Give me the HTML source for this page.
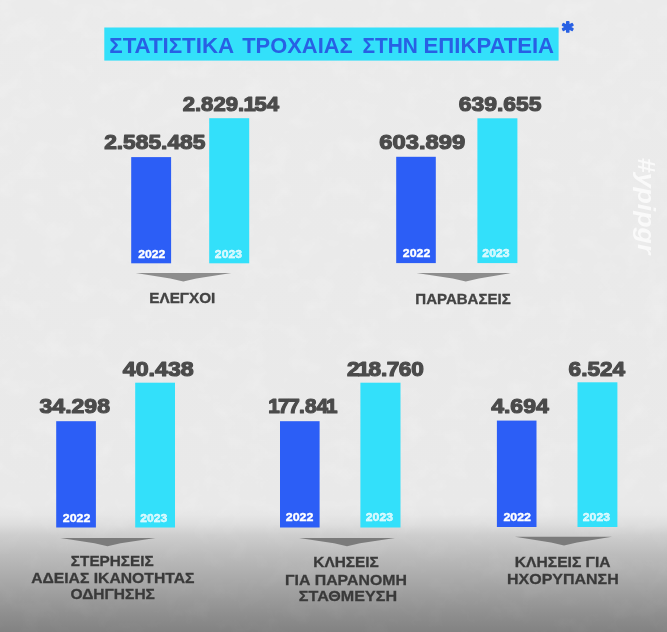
<!DOCTYPE html>
<html lang="el">
<head>
<meta charset="utf-8">
<title>Στατιστικά Τροχαίας στην Επικράτεια</title>
<style>
html,body{margin:0;padding:0;background:#ebebeb;}
body{width:667px;height:632px;overflow:hidden;position:relative;font-family:"Liberation Sans",sans-serif;}
svg{display:block;position:absolute;left:0;top:0;}
text{font-family:"Liberation Sans",sans-serif;font-weight:700;}
.num{stroke:#4b4b4b;stroke-width:1.15px;stroke-linejoin:round;}
.yr{stroke:#fff;stroke-width:0.35px;}
.lab{stroke:#3f3f3f;stroke-width:0.3px;}
.ast{font-family:"DejaVu Sans",sans-serif;font-weight:700;stroke:#2860e4;stroke-width:1.8px;stroke-linejoin:round;}
.tag{font-style:italic;}
</style>
</head>
<body>
<svg width="667" height="632" viewBox="0 0 667 632">
<defs>
<linearGradient id="bg" x1="0" y1="0" x2="0" y2="1">
<stop offset="0" stop-color="#ebebeb"/>
<stop offset="0.80" stop-color="#e9e9e9"/>
<stop offset="0.815" stop-color="#e6e6e6"/>
<stop offset="0.83" stop-color="#dddddd"/>
<stop offset="0.846" stop-color="#cecece"/>
<stop offset="0.877" stop-color="#bcbcbc"/>
<stop offset="0.926" stop-color="#a5a5a5"/>
<stop offset="0.973" stop-color="#8e8e8e"/>
<stop offset="1" stop-color="#828282"/>
</linearGradient>
<filter id="tx" x="0" y="0" width="100%" height="100%" color-interpolation-filters="sRGB">
<feTurbulence type="fractalNoise" baseFrequency="0.045 0.05" numOctaves="4" seed="11"/>
<feColorMatrix type="matrix" values="0 0 0 0 1  0 0 0 0 1  0 0 0 0 1  1.2 0 0 0 -0.5"/>
</filter>
<linearGradient id="mg" x1="0" y1="0" x2="0" y2="1">
<stop offset="0" stop-color="#fff"/>
<stop offset="0.79" stop-color="#fff"/>
<stop offset="0.86" stop-color="#555"/>
<stop offset="1" stop-color="#333"/>
</linearGradient>
<mask id="mk" maskUnits="userSpaceOnUse" x="0" y="0" width="667" height="632"><rect x="0" y="0" width="667" height="632" fill="url(#mg)"/></mask>
</defs>
<rect x="0" y="0" width="667" height="632" fill="url(#bg)"/>
<g mask="url(#mk)"><rect x="0" y="0" width="667" height="632" filter="url(#tx)" opacity="0.3"/></g>
<rect x="104.3" y="27.5" width="454.3" height="33.1" fill="#33e0fa"/>
<text class="ast" x="562.2" y="37.6" font-size="21" fill="#2860e4">*</text>
<text class="tag" transform="translate(637.9,157.8) rotate(90)" font-size="23" fill="#ffffff" fill-opacity="0.72" textLength="96.5" lengthAdjust="spacingAndGlyphs">#ypipgr</text>
<rect x="131.2" y="157.1" width="39.9" height="106.2" fill="#2c5ef6"/>
<rect x="209.2" y="118.2" width="40.0" height="145.1" fill="#33e0fa"/>
<polygon fill="#8d8d8d" points="135.8,273 231.4,273 196.3,278.38 183.3,281.4 170.3,278.38"/>
<rect x="396.2" y="156.8" width="39.6" height="106.3" fill="#2c5ef6"/>
<rect x="477.4" y="118.3" width="40.0" height="144.8" fill="#33e0fa"/>
<polygon fill="#8d8d8d" points="416.5,273 510.8,273 478.8,278.38 465.8,281.4 452.8,278.38"/>
<rect x="56.2" y="421.2" width="39.7" height="106.3" fill="#2c5ef6"/>
<rect x="135.2" y="382.7" width="39.8" height="144.8" fill="#33e0fa"/>
<polygon fill="#7b7b7b" points="60.5,538 155.5,538 120.5,543.25 107.5,546.2 94.5,543.25"/>
<rect x="280" y="421.2" width="39.6" height="106.3" fill="#2c5ef6"/>
<rect x="360.4" y="382.7" width="40.1" height="144.8" fill="#33e0fa"/>
<polygon fill="#7b7b7b" points="299,538 395,538 360.0,543.25 347,546.2 334.0,543.25"/>
<rect x="496.9" y="420.6" width="39.6" height="106.4" fill="#2c5ef6"/>
<rect x="577.5" y="382.3" width="39.9" height="144.7" fill="#33e0fa"/>
<polygon fill="#7b7b7b" points="514.9,536.8 612,536.8 577.0,542.43 564,545.6 551.0,542.43"/>
<text class="title" font-size="21.8" fill="#2860e4"><tspan id="ti1" x="109.25" y="53" textLength="124.93" lengthAdjust="spacingAndGlyphs">ΣΤΑΤΙΣΤΙΚΑ</tspan> <tspan id="ti2" x="242.21" y="53" textLength="110.49" lengthAdjust="spacingAndGlyphs">ΤΡΟΧΑΙΑΣ</tspan> <tspan id="ti3" x="362.46" y="53" textLength="55.50" lengthAdjust="spacingAndGlyphs">ΣΤΗΝ</tspan> <tspan id="ti4" x="423.56" y="53" textLength="130.49" lengthAdjust="spacingAndGlyphs">ΕΠΙΚΡΑΤΕΙΑ</tspan></text>
<text id="g0v1" class="num" transform="translate(104.13,149) scale(1.1167,1)" font-size="20.4" fill="#4b4b4b">2.585.485</text>
<text id="g0v2" class="num" transform="translate(182.66,111) scale(1.0843,1)" dx="0.0 0.0 0.0 0.0 0.0 0.0 -0.6 -1.3 0.0" font-size="20.4" fill="#4b4b4b">2.829.154</text>
<text id="g0y1" class="yr" x="138.16" y="258" font-size="10" fill="#ffffff" textLength="27.14" lengthAdjust="spacingAndGlyphs">2022</text>
<text id="g0y2" class="yr" x="214.89" y="258" font-size="10" fill="#ffffff" fill-opacity="0.72" textLength="27.02" lengthAdjust="spacingAndGlyphs">2023</text>
<text class="lab" font-size="14.6" fill="#444444"><tspan id="g0l0" x="149.28" y="303" textLength="66.08" lengthAdjust="spacingAndGlyphs">ΕΛΕΓΧΟΙ</tspan></text>
<text id="g1v1" class="num" transform="translate(379.28,149) scale(1.1653,1)" font-size="20.4" fill="#4b4b4b">603.899</text>
<text id="g1v2" class="num" transform="translate(458.71,111) scale(1.1230,1)" font-size="20.4" fill="#4b4b4b">639.655</text>
<text id="g1y1" class="yr" x="402.89" y="257" font-size="10" fill="#ffffff" textLength="27.38" lengthAdjust="spacingAndGlyphs">2022</text>
<text id="g1y2" class="yr" x="482.37" y="257" font-size="10" fill="#ffffff" fill-opacity="0.72" textLength="27.15" lengthAdjust="spacingAndGlyphs">2023</text>
<text class="lab" font-size="14.6" fill="#444444"><tspan id="g1l0" x="415.31" y="304" textLength="95.35" lengthAdjust="spacingAndGlyphs">ΠΑΡΑΒΑΣΕΙΣ</tspan></text>
<text id="g2v1" class="num" transform="translate(39.58,413) scale(1.1280,1)" font-size="20.4" fill="#4b4b4b">34.298</text>
<text id="g2v2" class="num" transform="translate(122.80,376) scale(1.1377,1)" font-size="20.4" fill="#4b4b4b">40.438</text>
<text id="g2y1" class="yr" x="62.76" y="522" font-size="10" fill="#ffffff" textLength="27.58" lengthAdjust="spacingAndGlyphs">2022</text>
<text id="g2y2" class="yr" x="140.36" y="522" font-size="10" fill="#ffffff" fill-opacity="0.72" textLength="27.02" lengthAdjust="spacingAndGlyphs">2023</text>
<text class="lab" font-size="14.6" fill="#393939"><tspan id="g2l0" x="70.87" y="566" textLength="82.80" lengthAdjust="spacingAndGlyphs">ΣΤΕΡΗΣΕΙΣ</tspan> <tspan id="g2l1" x="31.17" y="583" textLength="163.28" lengthAdjust="spacingAndGlyphs">ΑΔΕΙΑΣ ΙΚΑΝΟΤΗΤΑΣ</tspan> <tspan id="g2l2" x="70.51" y="599" textLength="84.43" lengthAdjust="spacingAndGlyphs">ΟΔΗΓΗΣΗΣ</tspan></text>
<text id="g3v1" class="num" transform="translate(268.29,413) scale(1.0168,1)" dx="0.0 -1.8 -1.2 -0.7 0.0 0.0 -1.9" font-size="20.4" fill="#4b4b4b">177.841</text>
<text id="g3v2" class="num" transform="translate(346.88,376) scale(1.1101,1)" dx="0.0 -1.9 -1.3 0.0 -0.5 -0.7 0.0" font-size="20.4" fill="#4b4b4b">218.760</text>
<text id="g3y1" class="yr" x="285.76" y="521" font-size="10" fill="#ffffff" textLength="27.58" lengthAdjust="spacingAndGlyphs">2022</text>
<text id="g3y2" class="yr" x="365.83" y="521" font-size="10" fill="#ffffff" fill-opacity="0.72" textLength="27.14" lengthAdjust="spacingAndGlyphs">2023</text>
<text class="lab" font-size="14.6" fill="#393939"><tspan id="g3l0" x="313.30" y="567" textLength="65.53" lengthAdjust="spacingAndGlyphs">ΚΛΗΣΕΙΣ</tspan> <tspan id="g3l1" x="284.97" y="585" textLength="121.87" lengthAdjust="spacingAndGlyphs">ΓΙΑ ΠΑΡΑΝΟΜΗ</tspan> <tspan id="g3l2" x="298.85" y="601" textLength="98.18" lengthAdjust="spacingAndGlyphs">ΣΤΑΘΜΕΥΣΗ</tspan></text>
<text id="g4v1" class="num" transform="translate(491.16,413) scale(1.1297,1)" font-size="20.4" fill="#4b4b4b">4.694</text>
<text id="g4v2" class="num" transform="translate(568.55,376) scale(1.1098,1)" font-size="20.4" fill="#4b4b4b">6.524</text>
<text id="g4y1" class="yr" x="503.42" y="521" font-size="10" fill="#ffffff" textLength="27.55" lengthAdjust="spacingAndGlyphs">2022</text>
<text id="g4y2" class="yr" x="582.83" y="521" font-size="10" fill="#ffffff" fill-opacity="0.72" textLength="27.14" lengthAdjust="spacingAndGlyphs">2023</text>
<text class="lab" font-size="14.6" fill="#393939"><tspan id="g4l0" x="514.85" y="567" textLength="95.72" lengthAdjust="spacingAndGlyphs">ΚΛΗΣΕΙΣ ΓΙΑ</tspan> <tspan id="g4l1" x="507.02" y="584" textLength="111.69" lengthAdjust="spacingAndGlyphs">ΗΧΟΡΥΠΑΝΣΗ</tspan></text>
</svg>
</body>
</html>
